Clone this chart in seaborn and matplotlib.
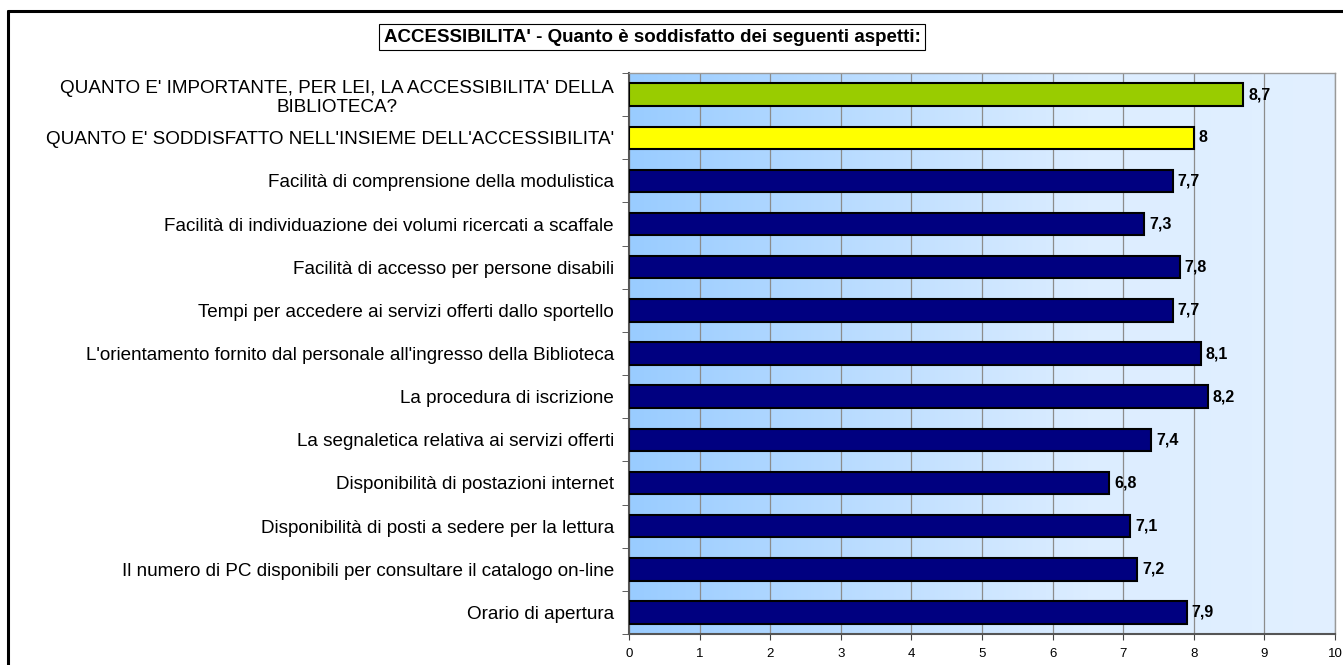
import matplotlib
matplotlib.use("Agg")
import matplotlib.pyplot as plt
import matplotlib.colors as mcolors
from matplotlib.lines import Line2D
from matplotlib.ticker import FixedLocator
import numpy as np
import seaborn as sns

categories = [
    "QUANTO E' IMPORTANTE, PER LEI, LA ACCESSIBILITA' DELLA\nBIBLIOTECA?",
    "QUANTO E' SODDISFATTO NELL'INSIEME DELL'ACCESSIBILITA'",
    "Facilità di comprensione della modulistica",
    "Facilità di individuazione dei volumi ricercati a scaffale",
    "Facilità di accesso per persone disabili",
    "Tempi per accedere ai servizi offerti dallo sportello",
    "L'orientamento fornito dal personale all'ingresso della Biblioteca",
    "La procedura di iscrizione",
    "La segnaletica relativa ai servizi offerti",
    "Disponibilità di postazioni internet",
    "Disponibilità di posti a sedere per la lettura",
    "Il numero di PC disponibili per consultare il catalogo on-line",
    "Orario di apertura",
]
values = [8.7, 8, 7.7, 7.3, 7.8, 7.7, 8.1, 8.2, 7.4, 6.8, 7.1, 7.2, 7.9]
bar_colors = ["#99CC00", "#FFFF00"] + ["#000080"] * 11
title = "ACCESSIBILITA' - Quanto è soddisfatto dei seguenti aspetti:"

sns.set_style("white")
plt.rcParams["font.family"] = ["Liberation Sans", "DejaVu Sans"]
plt.rcParams["text.color"] = "black"
plt.rcParams["xtick.color"] = "black"
plt.rcParams["ytick.color"] = "black"

fig = plt.figure(figsize=(13.43, 6.65), dpi=100)
ax = fig.add_axes([0.4684, 0.0466, 0.5256, 0.8436])

# gradient background
cmap = mcolors.LinearSegmentedColormap.from_list(
    "bg", [(0, "#99CCFF"), (0.65, "#DCEDFF"), (1, "#E2F0FF")])
grad = np.linspace(0, 1, 256).reshape(1, -1)
n = len(categories)
ax.imshow(grad, cmap=cmap, aspect="auto", extent=[0, 10, n - 0.5, -0.5], zorder=0)

sns.barplot(x=values, y=categories, hue=categories, palette=bar_colors,
            legend=False, orient="h", width=0.52, edgecolor="black",
            linewidth=1.5, saturation=1, ax=ax, zorder=3)

ax.set_xlim(0, 10)
ax.set_ylim(n - 0.5, -0.5)
ax.set_xticks(range(11))
ax.xaxis.grid(True, color="#8c8c8c", linewidth=0.9, zorder=1)
ax.set_axisbelow(True)
ax.tick_params(axis="x", labelsize=9.5, length=4, pad=6, direction="out",
               bottom=True, color="#444444")
ax.tick_params(axis="y", which="major", length=0, labelsize=13.6, pad=11)
ax.yaxis.set_minor_locator(FixedLocator(np.arange(-0.5, n, 1)))
ax.tick_params(axis="y", which="minor", length=5, left=True, color="#444444")
first = ax.get_yticklabels()[0]
first.set_multialignment("center")
first.set_linespacing(1.15)
ax.set_xlabel("")
ax.set_ylabel("")

for sp in ["left", "bottom"]:
    ax.spines[sp].set_color("#555555")
    ax.spines[sp].set_linewidth(1.5)
for sp in ["top", "right"]:
    ax.spines[sp].set_color("#999999")
    ax.spines[sp].set_linewidth(1.0)

for i, v in enumerate(values):
    ax.text(v + 0.07, i, f"{v:g}".replace(".", ","), va="center", ha="left",
            fontsize=11.5, fontweight="bold", zorder=5)

fig.text(0.4855, 0.944, title, ha="center", va="center", fontsize=13.5,
         fontweight="bold",
         bbox=dict(boxstyle="square,pad=0.25", facecolor="white",
                   edgecolor="black", linewidth=0.8))

# outer chart border (left and top visible)
fig.add_artist(Line2D([0.0063, 0.0063], [0, 0.9835], color="black",
                      linewidth=2.2, transform=fig.transFigure))
fig.add_artist(Line2D([0.0063, 1], [0.9835, 0.9835], color="black",
                      linewidth=2.2, transform=fig.transFigure))

fig.savefig("out.png", dpi=100)
